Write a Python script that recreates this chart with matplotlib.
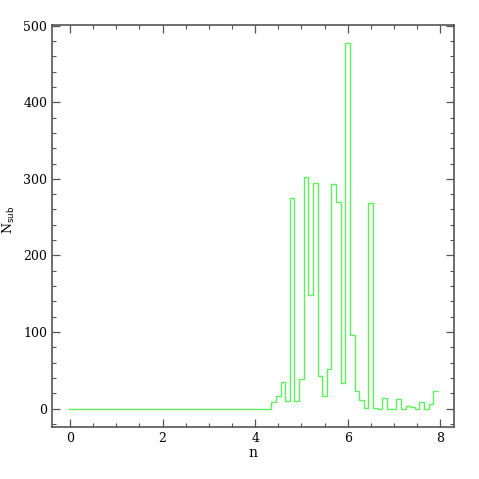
import numpy as np
import matplotlib
matplotlib.use("Agg")
import matplotlib.pyplot as plt
from matplotlib.ticker import MultipleLocator

# histogram of n, bin width 0.1, bins centred on 0.0 ... 7.9
bin_width = 0.1
bin_centres = np.round(np.arange(0, 8.0, bin_width), 1)
counts = [0] * 44 + [
    8, 17, 35, 10, 275, 10, 39, 302, 148, 295,      # 4.4 - 5.3
    42, 17, 52, 293, 270, 34, 478, 96, 23, 11,      # 5.4 - 6.3
    1, 268, 1, 0, 14, 0, 0, 13, 0, 4,               # 6.4 - 7.3
    2, 0, 9, 0, 6, 23,                              # 7.4 - 7.9
]

plt.rcParams['font.family'] = 'DejaVu Serif'

fig = plt.figure(figsize=(4.79, 4.79), dpi=100)
ax = fig.add_axes([0.1086, 0.1086, 0.8394, 0.8394])

edges = np.append(bin_centres - bin_width / 2, bin_centres[-1] + bin_width / 2)
ax.stairs(counts, edges, baseline=None, color='#5cf05c', lw=1.0)

ax.set_xlim(-0.39, 8.3)
ax.set_ylim(-24, 501)
ax.xaxis.set_major_locator(MultipleLocator(2))
ax.xaxis.set_minor_locator(MultipleLocator(0.5))
ax.yaxis.set_major_locator(MultipleLocator(100))
ax.yaxis.set_minor_locator(MultipleLocator(20))

for sp in ax.spines.values():
    sp.set_color('#555555')
    sp.set_linewidth(1.2)
ax.tick_params(which='both', direction='in', top=True, right=True,
               colors='#555555', labelcolor='black', labelsize=9)
ax.tick_params(which='major', length=6, width=0.9)
ax.tick_params(which='minor', length=3, width=0.8)

ax.set_xlabel('n', fontsize=10, labelpad=1)
ax.set_ylabel(r'N$_{\rm sub}$', fontsize=9)
ax.yaxis.set_label_coords(-0.086, 0.515)

fig.savefig('out.png', dpi=100)
